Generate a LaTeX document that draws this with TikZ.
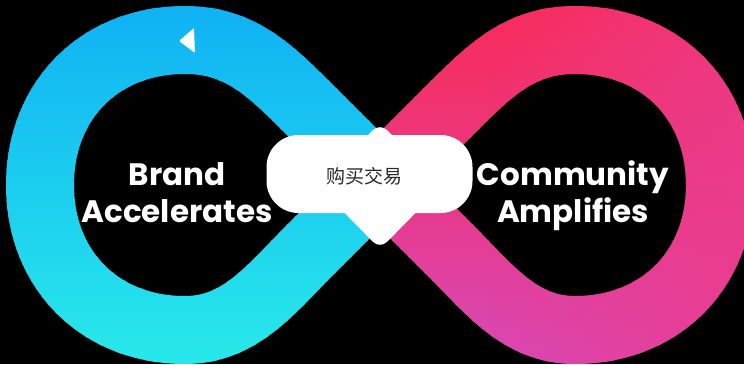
\documentclass[tikz,border=0pt]{standalone}
\usepackage{fontspec}
\newfontfamily\popfont{Poppins}
\newfontfamily\cjk{Noto Sans CJK SC}
\definecolor{lTop}{HTML}{10B1F4}
\definecolor{lBot}{HTML}{28E8EA}
\definecolor{rTop}{HTML}{FA2A55}
\definecolor{rBot}{HTML}{D848B6}
\definecolor{rSide}{HTML}{EC3C8C}
\definecolor{dealtxt}{HTML}{2A2A2A}
\tikzset{
 infpath/.style={insert path={(380,180) -- (310,110) .. controls (270,70) and (240,40) .. (185,40) .. controls (100,40) and (40,100) .. (40,185) .. controls (40,270) and (100,330) .. (185,330) .. controls (240,330) and (270,290) .. (310,250) -- (380,180) -- (450,110) .. controls (490,70) and (520,40) .. (575,40) .. controls (660,40) and (720,100) .. (720,185) .. controls (720,270) and (660,330) .. (575,330) .. controls (520,330) and (490,290) .. (450,250) -- cycle}},
 ringband/.style={line width=68pt, line join=round},
 lobetext/.style={text=white, font=\popfont\bfseries\fontsize{31}{37}\selectfont, anchor=base, inner sep=0pt},
}
\begin{document}
\begin{tikzpicture}[x=1pt,y=-1pt]
\useasboundingbox (0,0) rectangle (744,364);
\fill[black] (0,0) rectangle (744,364);
\clip (0,0) rectangle (744,364);
% infinity band: vertical gradients, one per lobe
\foreach \i in {0,...,45}{
  \pgfmathtruncatemacro\p{100-\i*100/45}
  \begin{scope}
    \clip (0,\i*8) rectangle (380,\i*8+9);
    \draw[ringband, draw=lTop!\p!lBot, infpath];
  \end{scope}
  \begin{scope}
    \clip (380,\i*8) rectangle (744,\i*8+9);
    \draw[ringband, draw=rTop!\p!rBot, infpath];
  \end{scope}
}
% pink tint toward the right side of the right lobe
\foreach \j in {0,...,33}{
  \pgfmathsetmacro\op{0.82*\j/33}
  \begin{scope}
    \clip (480+\j*8,0) rectangle (488+\j*8,364);
    \draw[ringband, draw=rSide, draw opacity=\op, infpath];
  \end{scope}
}
% direction arrow
\fill[white, rounded corners=1pt] (179,41) -- (194,28) -- (195,53) -- cycle;
% central badge
\fill[white, rounded corners=10pt] (380,123) -- (442,186) -- (380,249) -- (318,186) -- cycle;
\node[fill=white, rounded corners=32pt, minimum width=206pt, minimum height=78pt, inner sep=0pt] (deal) at (369.5,174) {};
\node[text=dealtxt, font=\cjk\fontsize{19}{22}\selectfont, inner sep=0pt] (dealtext) at (364,176) {购买交易};
% lobe labels
\node[lobetext] (brand1) at (177,185) {Brand};
\node[lobetext] (brand2) at (177,222) {Accelerates};
\node[lobetext] (comm1) at (573,185) {Community};
\node[lobetext] (comm2) at (573,222) {Amplifies};
\end{tikzpicture}
\end{document}
